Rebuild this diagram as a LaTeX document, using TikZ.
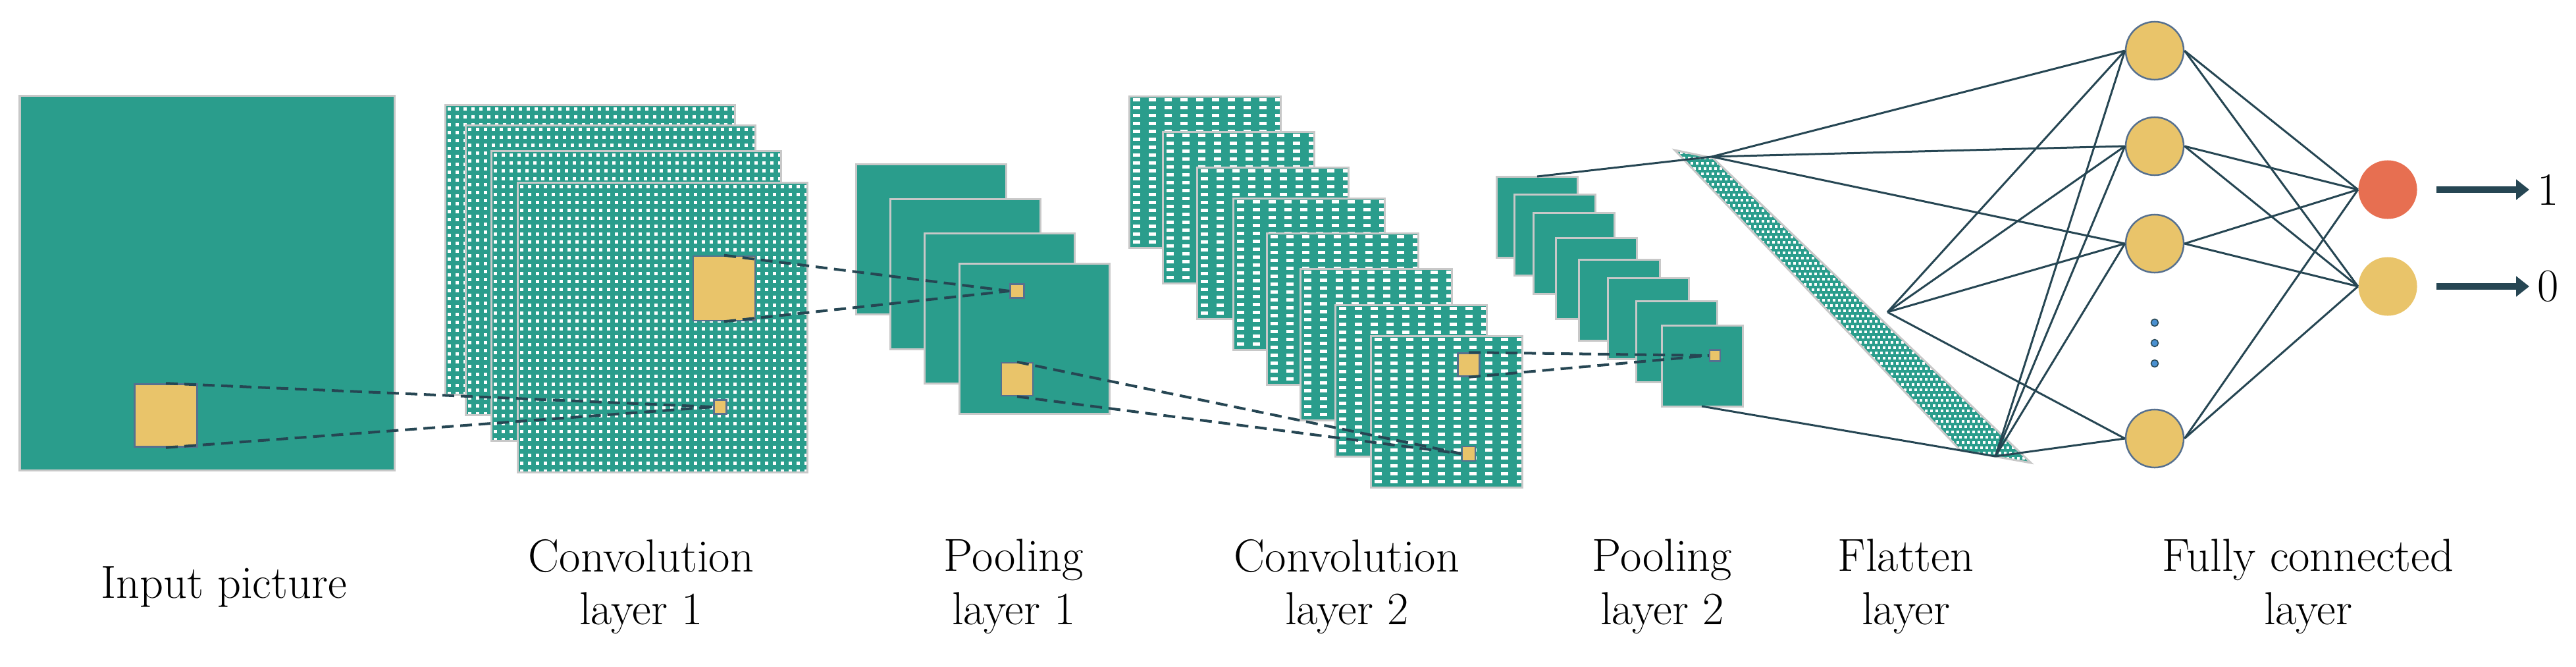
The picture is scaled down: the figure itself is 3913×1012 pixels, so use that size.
\documentclass[tikz,border=0pt]{standalone}
\usetikzlibrary{arrows.meta,positioning}
\definecolor{mapColor}{HTML}{2A9D8C}
\definecolor{patchColor}{HTML}{E9C46A}
\definecolor{outColor}{HTML}{E76F51}
\definecolor{penColor}{HTML}{264653}
\definecolor{rimColor}{HTML}{C8C8C8}
\definecolor{edgeColor}{HTML}{56708F}
\definecolor{dotColor}{HTML}{4A90D0}
\tikzset{
  rim/.style={draw=rimColor, line width=0.03cm},
  patch/.style={rectangle, fill=patchColor, draw=edgeColor, line width=0.025cm, inner sep=0pt},
  dotrow/.style={white, line width=0.05cm, dash pattern=on 0.05cm off 0.07cm},
  barrow/.style={white, line width=0.05cm, dash pattern=on 0.11cm off 0.13cm},
  chkrow/.style={white, line width=0.04cm, dash pattern=on 0.04cm off 0.04cm},
  link/.style={penColor, line width=0.04cm, dash pattern=on 0.18cm off 0.1cm},
  wire/.style={penColor, line width=0.03cm},
  neuron/.style={circle, minimum size=0.88cm, inner sep=0pt, fill=patchColor, draw=edgeColor, line width=0.025cm},
  outn/.style={circle, minimum size=0.89cm, inner sep=0pt},
  label/.style={align=center, font=\fontsize{20}{23}\selectfont},
}
% left, top, size, pattern (0 plain, 1 dots, 2 bars)
\newcommand{\fmap}[4]{%
  \fill[mapColor] (#1,#2) rectangle ++(#3,#3);
  \begin{scope}
    \clip (#1,#2) rectangle ++(#3,#3);
    \ifnum#4=1 \foreach \r in {1,...,37}{\draw[dotrow] (#1+4,#2+\r*12-6) -- ++(#3,0);}\fi
    \ifnum#4=2 \foreach \r in {1,...,20}{\draw[barrow] (#1+6,#2+\r*12-7) -- ++(#3,0);}\fi
  \end{scope}
  \draw[rim] (#1,#2) rectangle ++(#3,#3);}

\begin{document}
\begin{tikzpicture}[x=0.01cm,y=-0.01cm]
\useasboundingbox (0,0) rectangle (3913,1012);

% feature maps
\fmap{30}{145}{569}{0}
\foreach \l/\t in {676/159,707/190,746/229,786/277} {\fmap{\l}{\t}{440}{1}}
\foreach \l/\t in {1300/249,1352/302,1404/354,1457/400} {\fmap{\l}{\t}{228}{0}}
\foreach \l/\t in {1715/146,1766/200,1818/254,1873/301,1924/354,1975/408,2028/463,2082/510} {\fmap{\l}{\t}{230}{2}}
\foreach \l/\t in {2273/268,2300/295,2329/323,2363/361,2398/394,2442/422,2485/457,2524/494} {\fmap{\l}{\t}{123}{0}}

% receptive fields
\node[patch, minimum width=0.95cm, minimum height=0.95cm] (inY) at (252,631) {};
\node[patch, minimum width=0.19cm, minimum height=0.21cm] (c1s) at (1094,618) {};
\node[patch, minimum width=0.94cm, minimum height=0.98cm] (c1b) at (1100,438) {};
\node[patch, minimum width=0.21cm, minimum height=0.21cm] (p1s) at (1545,442) {};
\node[patch, minimum width=0.48cm, minimum height=0.50cm] (p1b) at (1545,576) {};
\node[patch, minimum width=0.20cm, minimum height=0.22cm] (c2s) at (2231,689) {};
\node[patch, minimum width=0.33cm, minimum height=0.35cm] (c2b) at (2231,554) {};
\node[patch, minimum width=0.16cm, minimum height=0.17cm] (p2s) at (2605,540) {};

\foreach \a/\b in {inY/c1s,c1b/p1s,p1b/c2s,c2b/p2s} {
  \draw[link] (\a.north) -- (\b.west);
  \draw[link] (\a.south) -- (\b.west);
}

% flatten strip
\coordinate (sA) at (2544,228);
\coordinate (sB) at (2602,240);
\coordinate (sC) at (3085,703);
\coordinate (sD) at (2978,684);
\begin{scope}
  \clip (sA) -- (sB) -- (sC) -- (sD) -- cycle;
  \fill[mapColor] (2540,220) rectangle (3090,710);
  \foreach \r in {0,...,62}{
    \draw[chkrow, dash phase={mod(\r,2)*0.04cm}] (2540,224+\r*8) -- (3090,224+\r*8);}
\end{scope}
\draw[rim] (sA) -- (sB) -- (sC) -- (sD) -- cycle;

\coordinate (fT) at (2600,238);
\coordinate (fM) at (2867,474);
\coordinate (fB) at (3031,693);
\coordinate (q1) at (2335,268);
\coordinate (q8) at (2585,617);
\draw[wire] (q1) -- (fT);
\draw[wire] (q8) -- (fB);

% fully connected
\node[neuron] (h1) at (3273,77) {};
\node[neuron] (h2) at (3273,222) {};
\node[neuron] (h3) at (3273,370) {};
\node[neuron] (h4) at (3273,666) {};
\node[outn, fill=outColor] (o1) at (3627,288) {};
\node[outn, fill=patchColor] (o2) at (3627,435) {};
\foreach \y in {490,521,552} {\fill[dotColor, draw=penColor, line width=0.015cm] (3273,\y) circle (0.055cm);}

\foreach \h in {h1,h2,h3} {\draw[wire] (fT) -- (\h.west);}
\foreach \h in {h1,h2,h3,h4} {
  \draw[wire] (fM) -- (\h.west);
  \draw[wire] (fB) -- (\h.west);
  \draw[wire] (\h.east) -- (o1.west);
  \draw[wire] (\h.east) -- (o2.west);
}

\node[label, anchor=west] (r1) at (3842,288) {1};
\node[label, anchor=west] (r0) at (3842,435) {0};
\draw[penColor, line width=0.1cm, -{Triangle[length=0.2cm,width=0.3cm]}] (3701,288) -- (r1.west);
\draw[penColor, line width=0.1cm, -{Triangle[length=0.2cm,width=0.3cm]}] (3701,435) -- (r0.west);

% captions
\node[label] at (340,891) {Input picture};
\node[label] at (974,891) {Convolution\\layer 1};
\node[label] at (1540,891) {Pooling\\layer 1};
\node[label] at (2046,891) {Convolution\\layer 2};
\node[label] at (2525,891) {Pooling\\layer 2};
\node[label] at (2895,891) {Flatten\\layer};
\node[label] at (3506,891) {Fully connected\\layer};
\end{tikzpicture}
\end{document}
